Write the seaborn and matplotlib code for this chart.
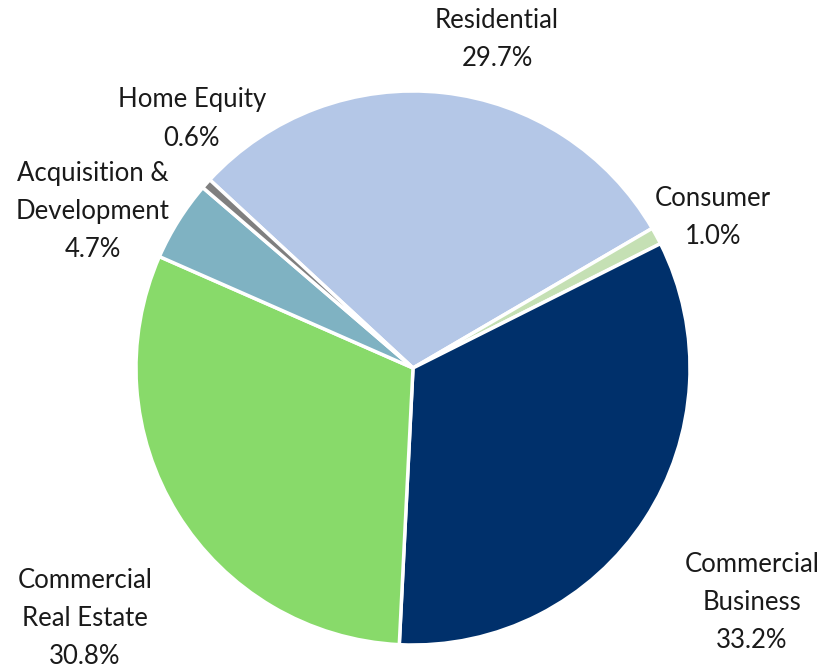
import matplotlib
matplotlib.use("Agg")
import matplotlib.pyplot as plt
import seaborn as sns

# loan portfolio mix, clockwise from the Home Equity / Residential edge
categories = ["Residential", "Consumer", "Commercial\nBusiness",
              "Commercial\nReal Estate", "Acquisition &\nDevelopment", "Home Equity"]
shares = [29.7, 1.0, 33.2, 30.8, 4.7, 0.6]
colors = ["#B4C7E7", "#C5E0B4", "#00306B", "#88DA6A", "#7FB2C2", "#7F7F7F"]

# label centres in pixels (layout only)
label_px = [(497, 39), (713, 218), (752, 602), (85, 618), (93, 212), (192, 119)]

sns.set_theme(style="white")
plt.rcParams["font.family"] = ["Lato", "DejaVu Sans"]

W, H = 827, 669
fig = plt.figure(figsize=(W / 100, H / 100), dpi=100)
cx, cy, r = 413, 368, 277
ax = fig.add_axes([(cx - r) / W, (H - cy - r) / H, 2 * r / W, 2 * r / H])

ax.pie(shares, colors=colors, startangle=137.2, counterclock=False,
       wedgeprops={"edgecolor": "white", "linewidth": 2.5})
ax.set_xlim(-1, 1)
ax.set_ylim(-1, 1)
ax.set_aspect("equal")

for name, val, (px, py) in zip(categories, shares, label_px):
    fig.text(px / W, 1 - py / H, f"{name}\n{val:.1f}%", ha="center", va="center",
             fontsize=18.5, fontweight="normal", color="#1a1a1a", linespacing=1.65)

fig.savefig("out.png", dpi=100, facecolor="white")
